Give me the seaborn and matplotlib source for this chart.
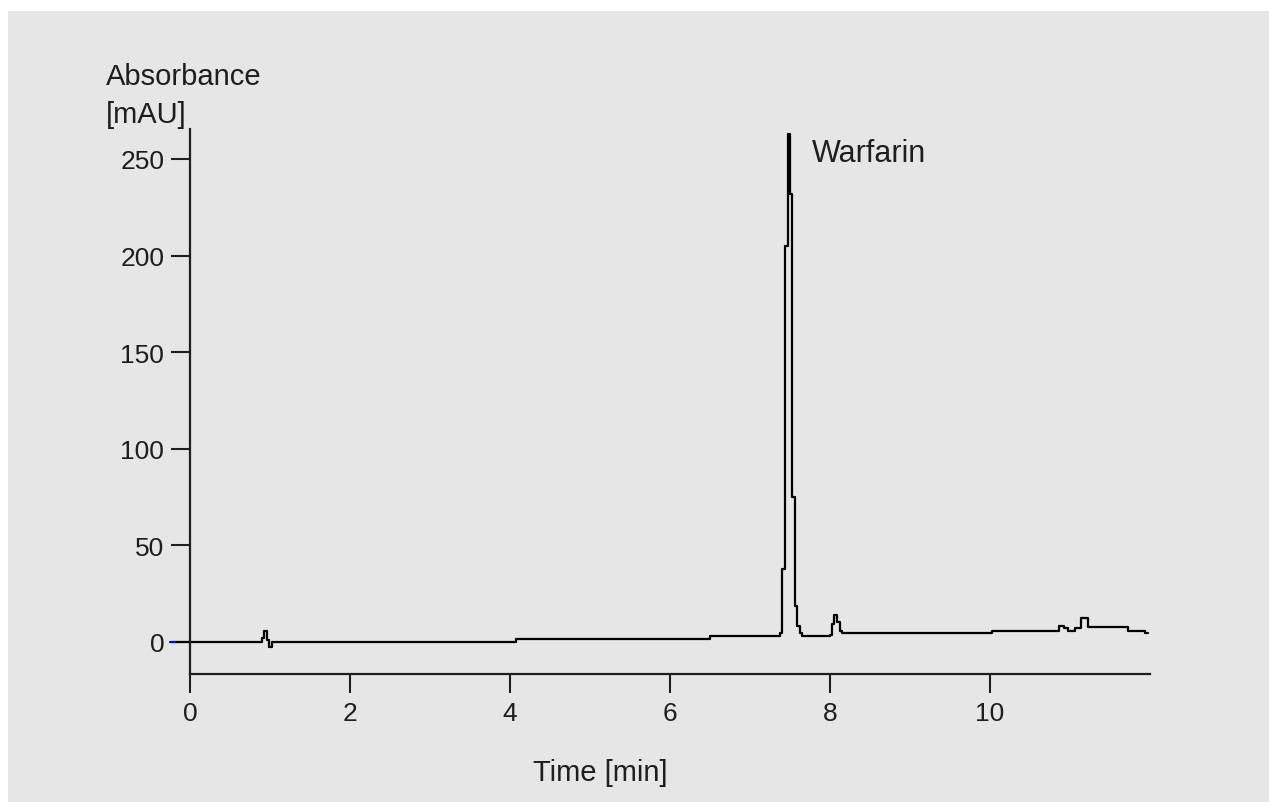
import matplotlib
matplotlib.use("Agg")
import matplotlib.pyplot as plt
import seaborn as sns
import pandas as pd
from matplotlib.patches import Rectangle

# chromatogram trace (time in min, absorbance in mAU)
times = [-0.19, 0.90, 0.93, 0.96, 0.99, 1.03, 4.08, 6.50, 7.38, 7.40, 7.44,
         7.47, 7.50, 7.53, 7.56, 7.59, 7.62, 7.65, 8.00, 8.03, 8.05, 8.09,
         8.12, 8.15, 10.02, 10.86, 10.92, 10.98, 11.06, 11.14, 11.22, 11.73,
         11.94, 11.98]
absorbance = [0.0, 2.0, 5.5, 1.0, -2.8, 0.0, 1.3, 3.0, 4.6, 38, 205,
              263, 232, 75, 18.6, 8.4, 4.6, 3.3, 3.8, 9.3, 14, 10.5,
              5.7, 4.5, 5.8, 8.4, 7.0, 5.5, 7.1, 12.4, 7.6, 5.5,
              4.5, 4.5]
# tiny blue stub at the very start of the trace
lead_times = [-0.25, -0.19]
lead_values = [0.0, 0.0]

x_ticks = [0, 2, 4, 6, 8, 10]
y_ticks = [0, 50, 100, 150, 200, 250]
peak_label = "Warfarin"

df = pd.DataFrame({"time": times, "mAU": absorbance})
lead = pd.DataFrame({"time": lead_times, "mAU": lead_values})

sns.set_theme(style="white")
plt.rcParams['font.family'] = ['Liberation Sans Narrow', 'Liberation Sans', 'DejaVu Sans']
ink = "#1e1e1e"

fig = plt.figure(figsize=(12.69, 8.03), dpi=100, facecolor="white")
# grey panel behind everything
fig.patches.append(Rectangle((8 / 1269, 0), 1, 1 - 12 / 803, transform=fig.transFigure,
                             facecolor="#e6e6e6", edgecolor="none", zorder=-10))

ax = fig.add_axes([166 / 1269, 128 / 803, 984 / 1269, 545 / 803])
ax.set_facecolor("none")

sns.lineplot(data=df, x="time", y="mAU", ax=ax, color="black", linewidth=1.6,
             drawstyle="steps-post", estimator=None, sort=False)
sns.lineplot(data=lead, x="time", y="mAU", ax=ax, color="blue", linewidth=1.6,
             estimator=None, sort=False)

ax.set_xlim(-0.3, 12.0)
ax.set_ylim(-16.6, 265.5)

for s in ["top", "right"]:
    ax.spines[s].set_visible(False)
ax.spines["left"].set_position(("data", 0))
ax.spines["bottom"].set_bounds(0, 12)
for s in ["left", "bottom"]:
    ax.spines[s].set_color(ink)
    ax.spines[s].set_linewidth(1.6)

ax.set_xticks(x_ticks)
ax.set_yticks(y_ticks)
ax.tick_params(axis="both", direction="out", length=13.5, width=1.5, color=ink,
               labelsize=19, labelcolor=ink, bottom=True, left=True)
ax.tick_params(axis="x", pad=6)
ax.tick_params(axis="y", pad=5)
ax.set_xlabel("")
ax.set_ylabel("")

ax.text(7.775, 249, peak_label, fontsize=22, color=ink, ha="left", va="baseline")

fig.text(106 / 1269, 1 - 63 / 803, "Absorbance\n[mAU]", fontsize=21, color=ink,
         ha="left", va="top", linespacing=1.45)
fig.text(533 / 1269, 1 - 781 / 803, "Time [min]", fontsize=21, color=ink,
         ha="left", va="baseline")

fig.savefig("out.png", dpi=100, facecolor=fig.get_facecolor())
